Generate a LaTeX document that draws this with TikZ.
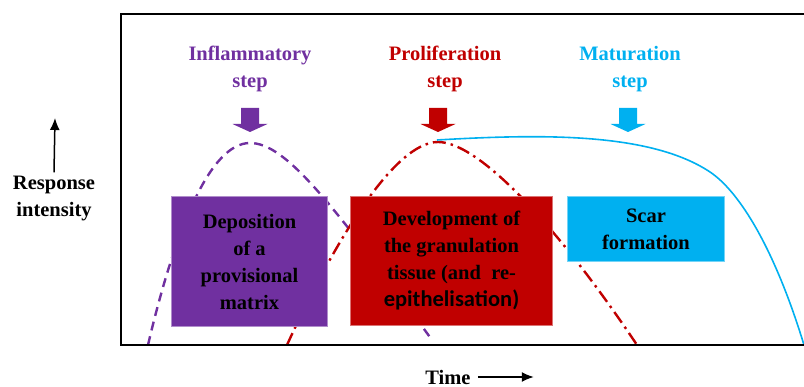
\documentclass[tikz,border=0pt]{standalone}
\usepackage{fontspec}
\setmainfont{Liberation Serif}[BoldFont={Liberation Serif Bold}]
\newfontfamily\calib{Carlito}
\usetikzlibrary{arrows.meta,positioning}

\definecolor{inflam}{HTML}{7030A0}
\definecolor{prolif}{HTML}{C00000}
\definecolor{matur}{HTML}{00B0F0}

\begin{document}
\begin{tikzpicture}[x=1pt,y=-1pt,>={Latex[length=12pt,width=10pt]},
                    font=\fontsize{20.5}{27}\selectfont\bfseries,
                    steplabel/.style={align=center,inner sep=0pt,text=#1},
                    stagebox/.style={draw=#1!55!white,fill=#1,line width=1pt,
                      align=center,anchor=north west,inner sep=0pt,text=black},
                    steparrow/.pic={\fill[pic actions] (-9,0) -- (9,0) -- (9,16)
                      -- (17.5,16) -- (0,24) -- (-17.5,16) -- (-9,16) -- cycle;}]

  \useasboundingbox (0,0) rectangle (804,387);

  % curves
  \draw[inflam,line width=2.4pt,dash pattern=on 9pt off 6pt]
    (148,345) .. controls (175,230) and (210,143) .. (250,143)
              .. controls (285,143) and (330,200) .. (432,340);
  \draw[prolif,line width=2.4pt,dash pattern=on 13pt off 5pt on 2.5pt off 5pt]
    (287,345) .. controls (335,240) and (395,142) .. (438,142)
              .. controls (480,142) and (560,230) .. (637,345);
  \draw[matur,line width=1.6pt]
    (437,140) .. controls (540,134) and (650,132) .. (710,172)
              .. controls (740,192) and (775,250) .. (804,345);

  % steps
  \node[steplabel=inflam] (infl) at (250,69) {Inflammatory\\step};
  \node[steplabel=prolif] (prol) at (445,69) {Proliferation\\step};
  \node[steplabel=matur]  (matu) at (630,69) {Maturation\\step};
  \pic[fill=inflam] at (250,108) {steparrow};
  \pic[fill=prolif] at (438,108) {steparrow};
  \pic[fill=matur]  at (628,108) {steparrow};

  % boxes
  \node[stagebox=inflam,minimum width=156pt,minimum height=130pt] (depo)
    at (171,196) {Deposition\\of a\\provisional\\matrix};
  \node[stagebox=prolif,minimum width=202pt,minimum height=129pt] (gran)
    at (350,196) {Development of\\the granulation\\tissue (and~~re-\\
      {\calib\fontsize{22.5}{27}\selectfont epithelisation)}};
  \node[stagebox=matur,minimum width=157pt,minimum height=65pt] (scar)
    at (567,196) {Scar\\formation};

  % frame
  \draw[line width=2.6pt] (804,14) -- (121,14) -- (121,345) -- (804,345);

  % axes
  \node[align=center,inner sep=0pt] (resp) at (54,199) {Response\\intensity};
  \coordinate (rtop) at (55,118);
  \draw[->,line width=1.5pt] ([yshift=4pt]resp.north) -- (rtop);
  \node[inner sep=0pt] (time) at (448,377) {Time};
  \coordinate[right=63pt of time.east] (tend);
  \draw[->,line width=1.5pt] ([xshift=7pt]time.east) -- (tend);
\end{tikzpicture}
\end{document}
